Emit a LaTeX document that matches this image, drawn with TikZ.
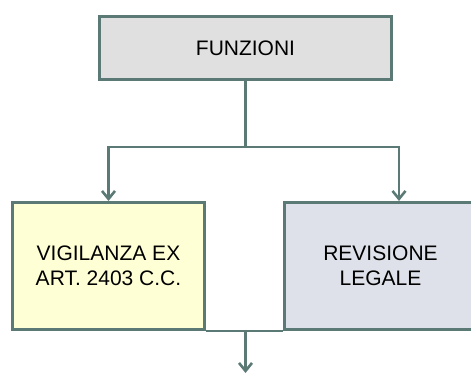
\documentclass[tikz,border=0pt]{standalone}
\usepackage{fontspec}
\setmainfont{Liberation Sans}
\usetikzlibrary{arrows.meta}
\definecolor{edgegrey}{RGB}{91,122,118}
\definecolor{topgrey}{RGB}{224,224,224}
\definecolor{paleyellow}{RGB}{255,255,214}
\definecolor{palegrey}{RGB}{222,225,233}
\begin{document}
\begin{tikzpicture}
[
    x=1pt, y=-1pt,
    box/.style={draw=edgegrey, line width=3pt, minimum width=192pt, minimum height=127pt,
        inner sep=0pt, align=center, font=\fontsize{21}{25.5}\selectfont},
    link/.style={draw=edgegrey, line width=2.6pt},
    arrow/.style={link, -{Straight Barb[length=8pt, width=13pt]}}
]
    \clip (0, 0) rectangle (471, 374);

    \node [box, fill=topgrey, minimum width=292pt, minimum height=63pt] (funzioni) at (245.5, 48) {FUNZIONI};
    \node [box, fill=paleyellow] (vigilanza) at (108.5, 266) {VIGILANZA EX\\ART. 2403 C.C.};
    \node [box, fill=palegrey] (revisione) at (380.5, 266) {REVISIONE\\LEGALE};

    \coordinate (split) at (245.5, 147);
    \coordinate (revin) at (399, 201);
    \coordinate (merge) at (245.5, 329.5);
    \coordinate (exit) at (245.5, 373);

    \draw [link] (funzioni.south) -- (split);
    \draw [arrow] (split) -| (vigilanza.north);
    \draw [arrow] (split) -| (revin);

    \draw [link] (vigilanza.south east) -- (revisione.south west);
    \draw [arrow] (merge) -- (exit);
\end{tikzpicture}
\end{document}
